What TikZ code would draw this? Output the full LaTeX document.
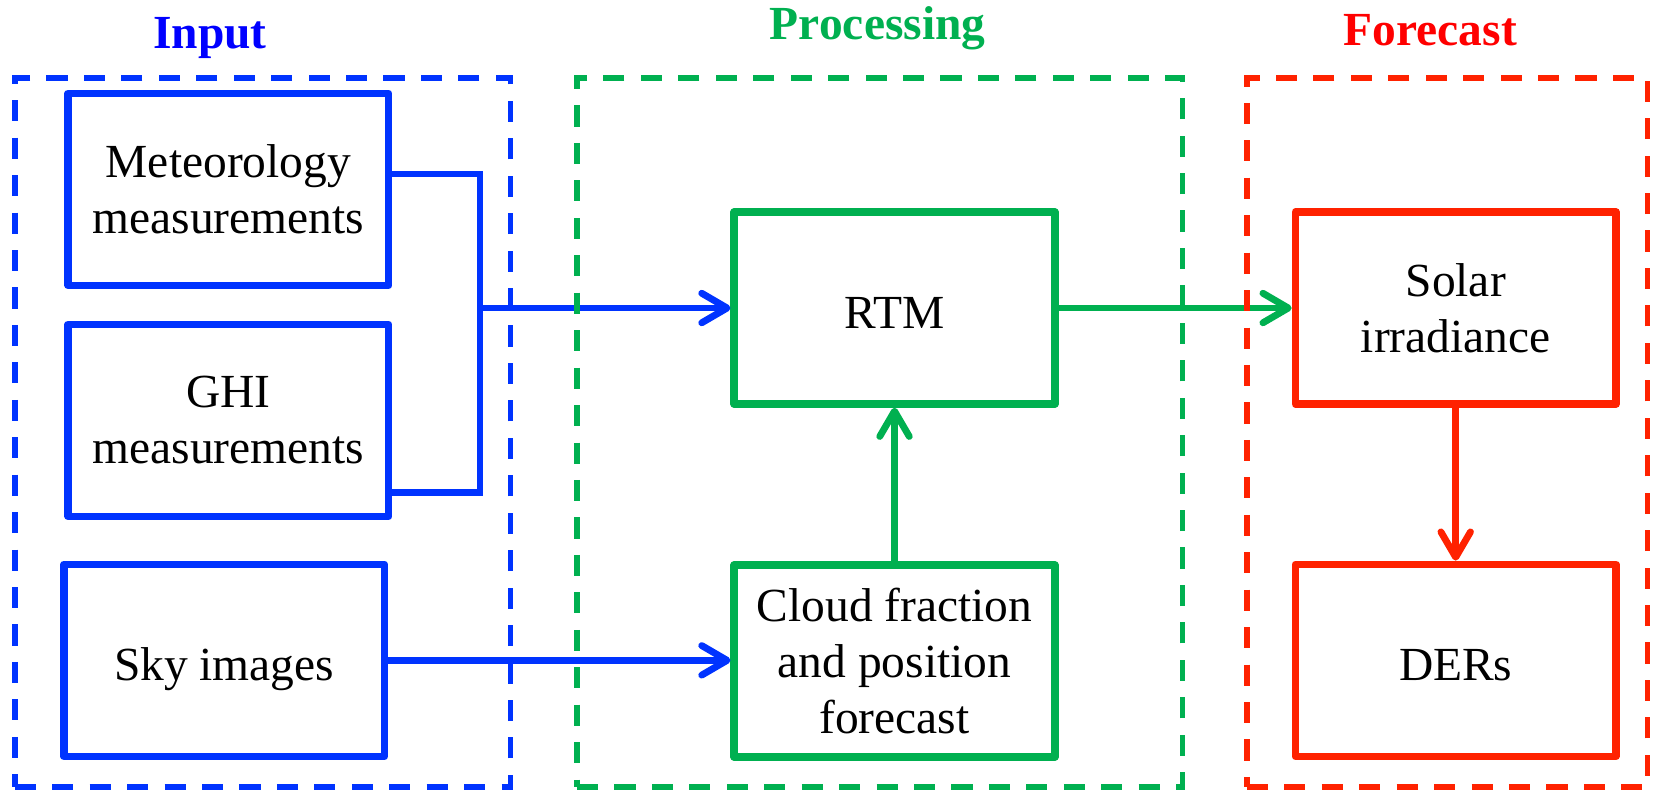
\documentclass[tikz,border=0pt]{standalone}
\usepackage{fontspec}
\setmainfont{Liberation Serif}
\usetikzlibrary{arrows.meta,calc}
\definecolor{cblue}{RGB}{0,51,255}
\definecolor{tblue}{RGB}{0,0,255}
\definecolor{cgreen}{RGB}{0,176,80}
\definecolor{cred}{RGB}{255,34,0}
\definecolor{tred}{RGB}{255,0,0}
\begin{document}
\begin{tikzpicture}[x=1pt,y=-1pt,
  box/.style={draw, line width=7pt, line join=round, minimum width=304pt, minimum height=182pt, inner sep=0pt, align=center, text=black, font=\fontsize{45}{53}\selectfont},
  one/.style={text height=39pt, text depth=0pt},
  grp/.style={draw, line width=5.2pt, dash pattern=on 20pt off 15.5pt, inner sep=0pt},
  ttl/.style={anchor=base, font=\fontsize{45}{53}\selectfont\bfseries},
  conn/.style={line width=6.5pt},
  arr/.style={conn, -{Straight Barb[length=24pt,width=28pt,line cap=round,line join=round]}}
]
\useasboundingbox (0,0) rectangle (1568,748);

% titles
\node[ttl, text=tblue] (tin) at (199,46) {Input};
\node[ttl, text=cgreen] (tproc) at (832,37) {Processing};
\node[ttl, text=tred] (tfc) at (1356,43) {Forecast};

% input boxes
\node[box, draw=cblue] (meteo) at (216.5,179.5) {Meteorology\\measurements};
\node[box, draw=cblue] (ghi) at (216.5,398.5) {GHI\\measurements};
\node[box, one, draw=cblue] (sky) at (212.5,626) {Sky images};

% processing boxes
\node[box, one, draw=cgreen] (rtm) at (848,292) {RTM};
\node[box, draw=cgreen] (cloud) at (848,626.5) {Cloud fraction\\and position\\forecast};

% forecast boxes
\node[box, draw=cred] (solar) at (1380,292) {Solar\\irradiance};
\node[box, one, draw=cred] (ders) at (1380,626) {DERs};

% connectors
\coordinate (bt) at (455,165);
\coordinate (bb) at (455,467);
\coordinate (bm) at (455,292);
\draw[conn, cblue, line join=miter] (bt -| meteo.east) -- (bt) -- (bb) -- (bb -| ghi.east);
\draw[arr, cblue] (bm) -- (bm -| rtm.west);
\draw[arr, cblue] (sky.east) -- (sky.east -| cloud.west);
\draw[arr, cgreen] (cloud.north) -- (rtm.south);
\draw[arr, cgreen] (rtm.east) -- (rtm.east -| solar.west);
\draw[arr, cred] (solar.south) -- (ders.north);

% group frames
\node[grp, draw=cblue, minimum width=470pt, minimum height=672pt] (ginput) at (249,410) {};
\node[grp, draw=cgreen, minimum width=574pt, minimum height=672pt] (gproc) at (834,410) {};
\node[grp, draw=cred, minimum width=380pt, minimum height=672pt] (gfc) at (1372,410) {};
\end{tikzpicture}
\end{document}
